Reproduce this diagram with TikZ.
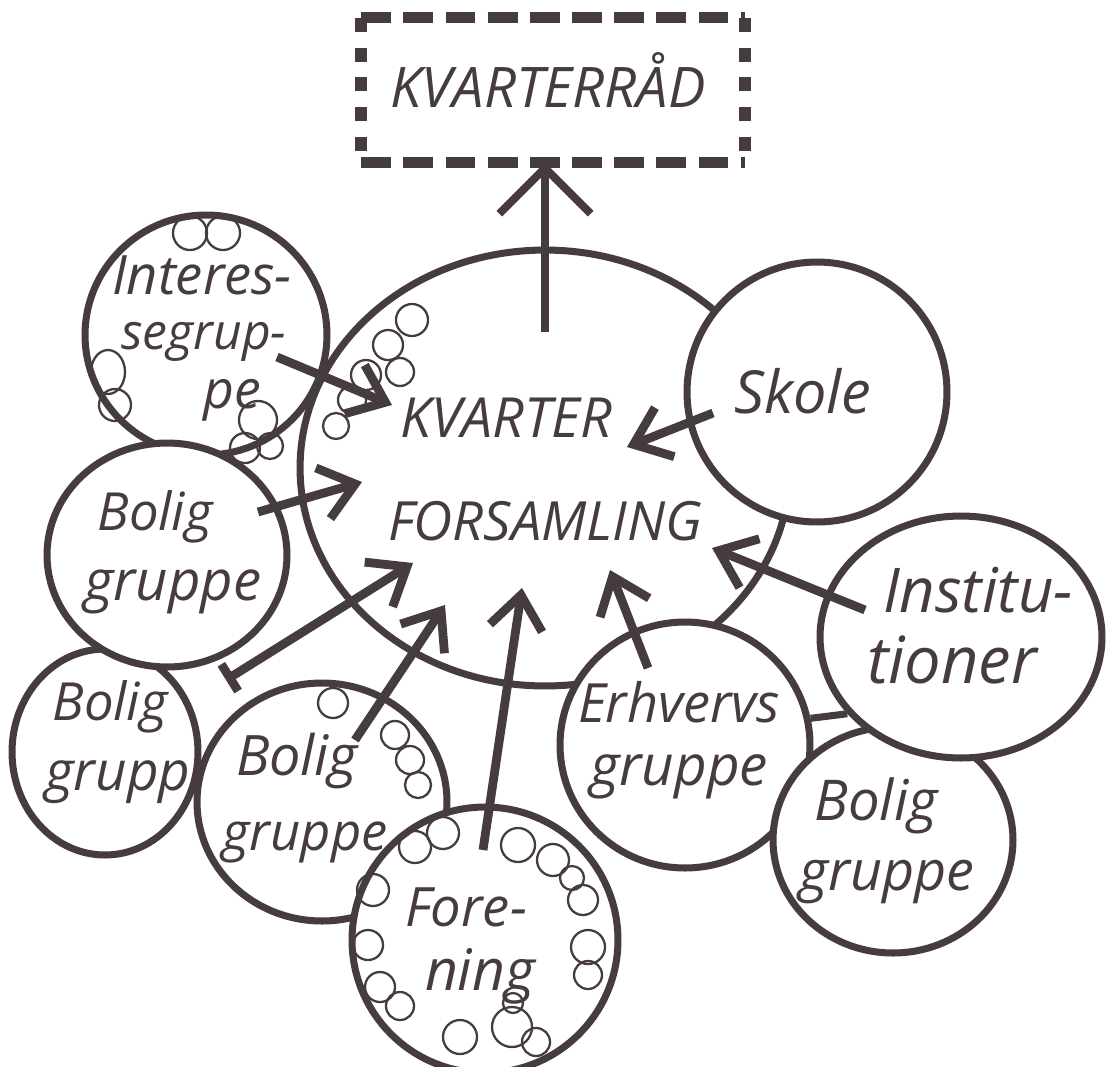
\documentclass[tikz,border=0pt]{standalone}
\usepackage{fontspec}
\setmainfont{Open Sans}
\usetikzlibrary{arrows.meta,shapes.geometric}
\definecolor{ink}{RGB}{70,60,62}
\newcommand{\hw}[2]{\resizebox{#1}{!}{\itshape #2}}
\begin{document}
\begin{tikzpicture}[x=0.02cm,y=-0.02cm,
  blob/.style={draw=ink,line width=4pt,fill=white,ellipse,inner sep=0pt},
  hollow/.style={draw=ink,line width=4pt,ellipse,inner sep=0pt},
  bub/.style={draw=ink,line width=1.3pt},
  arr/.style={draw=ink,line width=5pt,-{Straight Barb[length=19pt,width=30pt]}},
  uparr/.style={draw=ink,line width=4.5pt,-{Straight Barb[length=26pt,width=52pt]}},
  dashtb/.style={draw=ink,line width=6.5pt,dash pattern=on 17pt off 7pt},
  dashlr/.style={draw=ink,line width=6.5pt,dash pattern=on 8pt off 9pt},
  link/.style={draw=ink,line width=4pt},
  lab/.style={anchor=base,inner sep=0pt,text=ink}]
\useasboundingbox[fill=white] (0,0) rectangle (1112,1066);

% council box
\node[inner sep=0pt,minimum width=7.66cm,minimum height=2.88cm] (rad) at (553,90) {};
\draw[dashtb] (rad.north west) -- (rad.north east);
\draw[dashtb] (rad.south west) -- (rad.south east);
\draw[dashlr] (rad.north west) -- (rad.south west);
\draw[dashlr] (rad.north east) -- (rad.south east);
\node[lab] (radt) at (548,107) {\hw{6.3cm}{KVARTERRÅD}};

% big assembly circle
\node[blob,minimum width=9.8cm,minimum height=8.72cm] (kf) at (545,468) {};
% small groups
\node[hollow,minimum width=4.84cm,minimum height=4.8cm] (inter) at (206,335) {};
\node[blob,minimum width=3.72cm,minimum height=4.12cm] (bolFL) at (105,752) {};
\node[blob,minimum width=4.8cm,minimum height=4.48cm] (bolL) at (167,555) {};
\node[blob,minimum width=5.0cm,minimum height=4.76cm] (bolM) at (322,802) {};
\node[blob,minimum width=5.32cm,minimum height=5.32cm] (fore) at (485,940) {};
\node[blob,minimum width=5.0cm,minimum height=4.92cm] (erh) at (685,745) {};
\node[blob,minimum width=4.8cm,minimum height=4.52cm] (bolR) at (893,840) {};
\node[blob,minimum width=5.64cm,minimum height=4.84cm] (inst) at (961,637) {};
\node[blob,minimum width=5.2cm,minimum height=5.2cm] (skole) at (817,392) {};

% short link between Erhvervs and Institutioner
\draw[link] (erh.12) -- (inst.214);

% bubbles: Interessegruppe
\foreach \x/\y/\r in {190/233/17, 223/233/17, 115/405/16, 258/420/19, 245/448/15, 270/446/13}
  \draw[bub] (\x,\y) circle [radius=\r];
\draw[bub] (108,372) ellipse [x radius=17, y radius=22];
% bubbles: inside assembly (top left rim)
\foreach \x/\y/\r in {412/320/16, 388/345/15, 400/372/14, 366/375/15, 352/400/14, 336/426/13}
  \draw[bub] (\x,\y) circle [radius=\r];
% bubbles: middle Bolig
\foreach \x/\y/\r in {333/703/15, 395/735/14, 410/760/14, 418/785/13}
  \draw[bub] (\x,\y) circle [radius=\r];
% bubbles: Forening
\foreach \x/\y/\r in {415/847/16, 443/833/16, 518/845/17, 553/860/16, 572/878/12, 583/900/15,
  588/947/17, 588/975/14, 373/890/16, 368/945/15, 380/987/15, 400/1006/14,
  460/1037/17, 512/1027/20, 513/1003/10, 536/1042/14}
  \draw[bub] (\x,\y) circle [radius=\r];

% arrows
\coordinate (upS) at (545,332);
\draw[uparr] (upS) -- (rad.south -| upS);
\coordinate (a1s) at (277,357); \coordinate (a1t) at (392,405);
\coordinate (a2s) at (258,512); \coordinate (a2t) at (362,482);
\coordinate (a3s) at (226,680); \coordinate (a3t) at (413,563);
\coordinate (a4s) at (355,740); \coordinate (a4t) at (445,605);
\coordinate (a5s) at (483,850); \coordinate (a5t) at (522,588);
\coordinate (a6s) at (648,668); \coordinate (a6t) at (610,570);
\coordinate (a7s) at (865,610); \coordinate (a7t) at (712,548);
\coordinate (a8s) at (713,413); \coordinate (a8t) at (627,447);
\draw[arr] (a1s) -- (a1t);
\draw[arr] (a2s) -- (a2t);
\draw[arr,{Bar[width=18pt]}-{Straight Barb[length=19pt,width=30pt]}] (a3s) -- (a3t);
\draw[arr] (a4s) -- (a4t);
\draw[arr] (a5s) -- (a5t);
\draw[arr] (a6s) -- (a6t);
\draw[arr] (a7s) -- (a7t);
\draw[arr] (a8s) -- (a8t);

% labels
\node[lab] (kv1) at (506,437) {\hw{4.24cm}{KVARTER}};
\node[lab] (kv2) at (545,540) {\hw{6.28cm}{FORSAMLING}};
\node[lab] (in1) at (202,294) {\hw{3.6cm}{Interes-}};
\node[lab] (in2) at (204,349) {\hw{3.3cm}{segrup-}};
\node[lab] (in3) at (232,408) {\hw{1.15cm}{pe}};
\node[lab] (sk) at (803,413) {\hw{2.74cm}{Skole}};
\node[lab] (bl1) at (155,530) {\hw{2.3cm}{Bolig}};
\node[lab] (bl2) at (173,600) {\hw{3.54cm}{gruppe}};
\node[lab] (bf1) at (110,720) {\hw{2.3cm}{Bolig}};
\node[lab] (bf2) at (118,790) {\hw{2.9cm}{grupp}};
\node[lab] (bm1) at (297,775) {\hw{2.44cm}{Bolig}};
\node[lab] (bm2) at (305,850) {\hw{3.3cm}{gruppe}};
\node[lab] (fo1) at (466,926) {\hw{2.44cm}{Fore-}};
\node[lab] (fo2) at (480,990) {\hw{2.2cm}{ning}};
\node[lab] (er1) at (679,722) {\hw{4.04cm}{Erhvervs}};
\node[lab] (er2) at (679,785) {\hw{3.56cm}{gruppe}};
\node[lab] (is1) at (978,612) {\hw{3.8cm}{Institu-}};
\node[lab] (is2) at (952,683) {\hw{3.4cm}{tioner}};
\node[lab] (br1) at (876,820) {\hw{2.46cm}{Bolig}};
\node[lab] (br2) at (887,890) {\hw{3.5cm}{gruppe}};
\end{tikzpicture}
\end{document}
